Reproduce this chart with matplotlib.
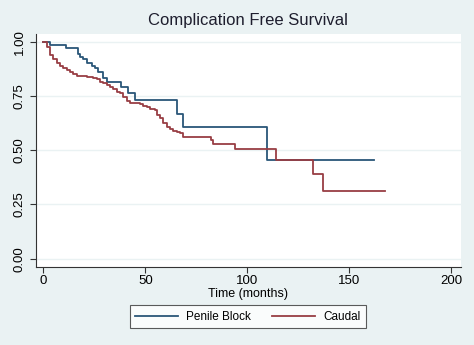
import matplotlib
matplotlib.use("Agg")
import matplotlib.pyplot as plt

plt.rcParams['font.family'] = ['Liberation Sans', 'DejaVu Sans']

# Kaplan-Meier step data (time in months, survival)
penile_time = [0, 3.3, 11.0, 16.8, 18.0, 19.6, 21.6, 23.7, 25.3, 27.0, 29.4, 31.4,
               37.9, 41.7, 45.0, 65.7, 68.3, 109.8, 162.0]
penile_surv = [1.0, 0.985, 0.972, 0.943, 0.931, 0.919, 0.900, 0.890, 0.877, 0.859,
               0.834, 0.816, 0.790, 0.762, 0.730, 0.667, 0.605, 0.455, 0.455]

caudal_time = [0, 1.6, 3.3, 4.9, 6.5, 8.2, 9.8, 11.4, 13.1, 14.7, 16.4, 18.0, 21.2,
               24.5, 26.1, 27.8, 29.4, 31.0, 32.7, 34.3, 35.9, 37.6, 39.2, 40.9,
               42.5, 44.1, 47.4, 49.0, 50.7, 52.3, 54.8, 55.6, 57.2, 58.9, 60.5,
               62.1, 63.7, 65.4, 67.0, 68.4, 82.0, 83.2, 94.1, 113.9, 132.4, 137.0,
               167.3]
caudal_surv = [1.0, 0.977, 0.939, 0.919, 0.900, 0.888, 0.877, 0.870, 0.862, 0.851,
               0.843, 0.842, 0.839, 0.831, 0.827, 0.816, 0.808, 0.800, 0.790, 0.781,
               0.770, 0.762, 0.747, 0.728, 0.719, 0.716, 0.713, 0.704, 0.698, 0.688,
               0.685, 0.662, 0.647, 0.627, 0.608, 0.596, 0.590, 0.585, 0.578, 0.563,
               0.545, 0.527, 0.504, 0.455, 0.390, 0.312, 0.312]

xticks = [0, 50, 100, 150, 200]
yticks = [0.0, 0.25, 0.5, 0.75, 1.0]
ytick_labels = ["0.00", "0.25", "0.50", "0.75", "1.00"]

bg = "#eaf2f3"
fig = plt.figure(figsize=(4.74, 3.45), dpi=100, facecolor=bg)
ax = fig.add_axes([0.076, 0.226, 0.8966, 0.6754])
ax.set_facecolor("white")

ax.step(penile_time, penile_surv, where="post", color="#2a5678", lw=1.3, label="Penile Block")
ax.step(caudal_time, caudal_surv, where="post", color="#983e44", lw=1.3, label="Caudal")

ax.set_xlim(-3.6, 204.8)
ax.set_ylim(-0.038, 1.035)
ax.set_xticks(xticks)
ax.set_yticks(yticks)
ax.set_yticklabels(ytick_labels, rotation=90, va="center")
ax.grid(axis="y", color=bg, lw=1)
ax.set_axisbelow(True)
for s in ["top", "right"]:
    ax.spines[s].set_visible(False)
for s in ["left", "bottom"]:
    ax.spines[s].set_color("#333333")
    ax.spines[s].set_linewidth(0.8)
ax.tick_params(axis="both", colors="#333333", labelcolor="black", labelsize=9.5, length=4, width=0.8)
ax.tick_params(axis="x", pad=2)

fig.text(0.523, 0.147, "Time (months)", ha="center", va="center", fontsize=9)
fig.text(0.523, 0.942, "Complication Free Survival", ha="center", va="center", fontsize=12, color="#1e1e2e")

leg = fig.legend(loc="center", bbox_to_anchor=(0.523, 0.082), ncol=2, frameon=True,
                 fancybox=False, edgecolor="#333333", fontsize=8.5, handlelength=3.6,
                 handletextpad=0.7, columnspacing=1.8, borderpad=0.45)
leg.get_frame().set_linewidth(0.8)

fig.savefig("out.png", dpi=100, facecolor=bg)
